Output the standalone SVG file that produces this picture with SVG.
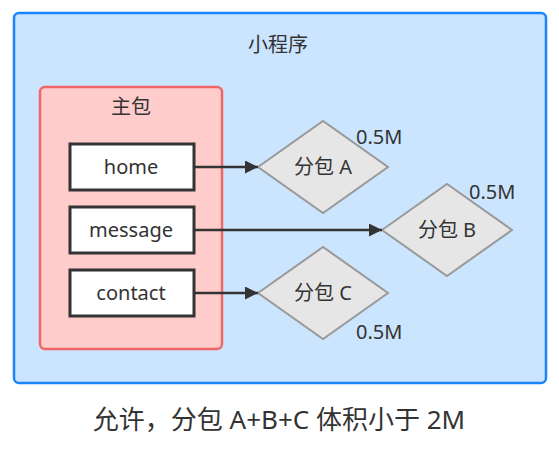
<svg xmlns="http://www.w3.org/2000/svg" width="559" height="452" viewBox="0 0 559 452">
<defs>
<style>
text{font-family:"Noto Sans","Noto Sans CJK SC",sans-serif;fill:#333;font-size:20px;text-anchor:middle;}
.page{fill:#ffffff;stroke:#333;stroke-width:3;}
.sub{fill:#e6e6e6;stroke:#999;stroke-width:2;}
.edge{stroke:#333;stroke-width:2.5;fill:none;marker-end:url(#arr);}
.size{text-anchor:start;}
</style>
<marker id="arr" viewBox="0 0 10 10" refX="10" refY="5" markerWidth="8" markerHeight="5.2" orient="auto" markerUnits="strokeWidth">
<path d="M0,0 L10,5 L0,10 z" fill="#333"/>
</marker>
</defs>
<rect width="559" height="452" fill="#ffffff"/>
<g id="miniprogram">
<rect x="14" y="13" width="532" height="370" rx="5" fill="#cce5ff" stroke="#1a85ff" stroke-width="2.5"/>
<text x="278" y="52">小程序</text>
</g>
<g id="main">
<rect x="40" y="87" width="182" height="262" rx="5" fill="#ffcccc" stroke="#f06666" stroke-width="2.5"/>
<text x="131" y="114">主包</text>
</g>
<g id="home">
<rect class="page" x="70" y="144" width="124" height="46"/>
<text x="131" y="174">home</text>
</g>
<g id="message">
<rect class="page" x="70" y="207" width="124" height="46"/>
<text x="131" y="237">message</text>
</g>
<g id="contact">
<rect class="page" x="70" y="270" width="124" height="46"/>
<text x="131" y="300">contact</text>
</g>
<g id="subA">
<polygon class="sub" points="258,167 323,121 388,167 323,213"/>
<text x="323" y="174">分包 A</text>
<text class="size" x="356" y="144">0.5M</text>
</g>
<g id="subB">
<polygon class="sub" points="382,230 447,184 512,230 447,276"/>
<text x="447" y="237">分包 B</text>
<text class="size" x="469" y="199">0.5M</text>
</g>
<g id="subC">
<polygon class="sub" points="258,293 323,247 388,293 323,339"/>
<text x="323" y="300">分包 C</text>
<text class="size" x="356" y="339">0.5M</text>
</g>
<g id="connectors">
<line class="edge" x1="194" y1="167" x2="258" y2="167"/>
<line class="edge" x1="194" y1="230" x2="382" y2="230"/>
<line class="edge" x1="194" y1="293" x2="258" y2="293"/>
</g>
<text x="279" y="429" style="font-size:26px">允许，分包 A+B+C 体积小于 2M</text>
</svg>
